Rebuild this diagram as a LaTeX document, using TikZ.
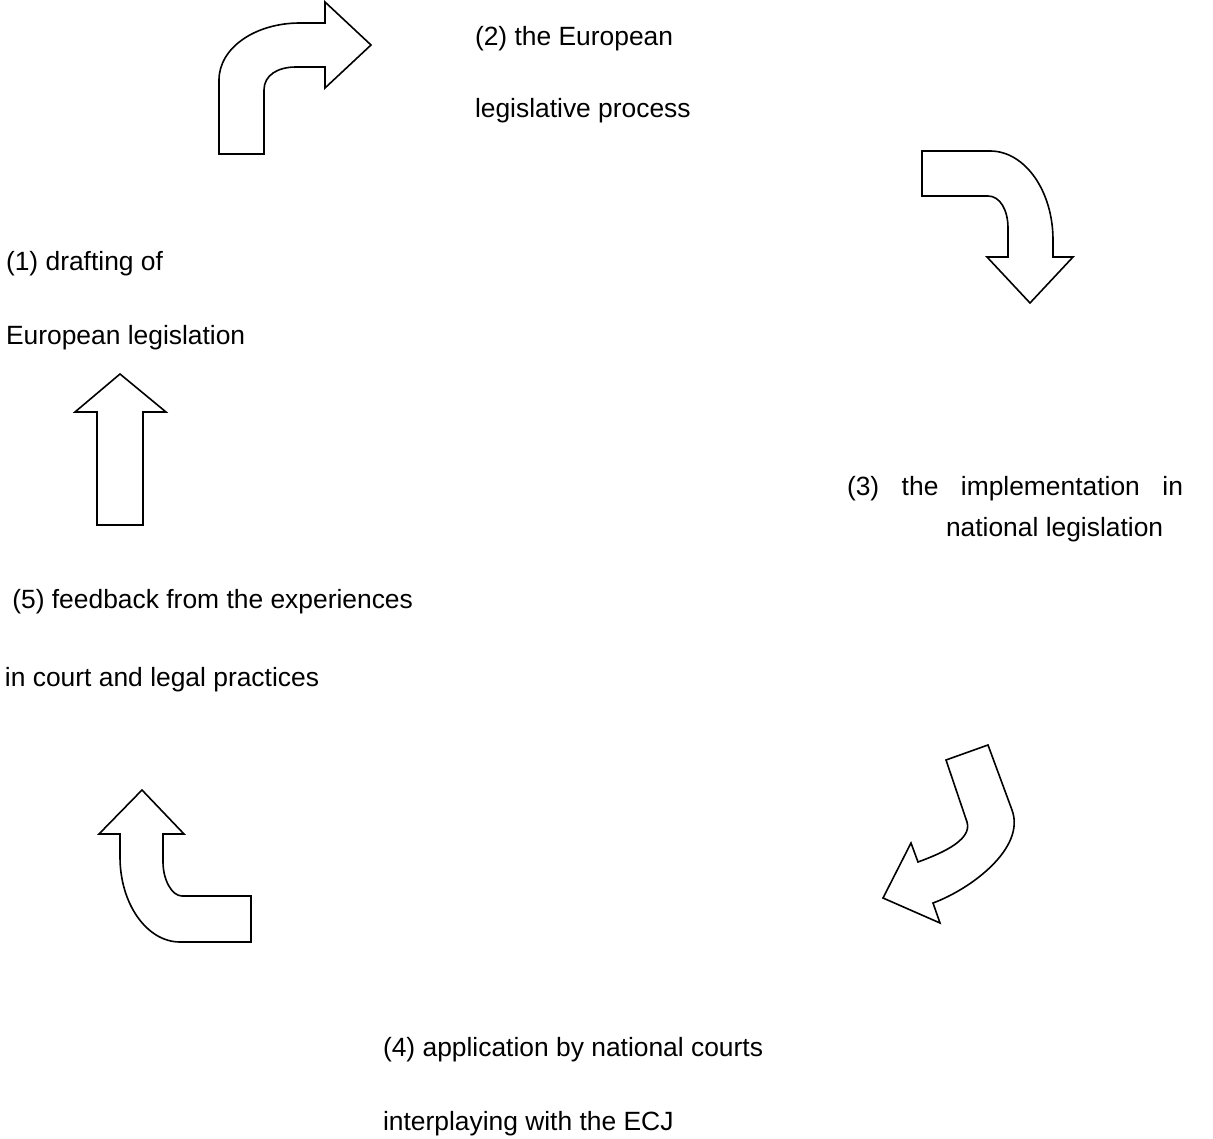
\documentclass[tikz,border=0pt]{standalone}
\usepackage{fontspec}
\setmainfont{Liberation Sans}
\begin{document}
\begin{tikzpicture}[x=1pt,y=-1pt,
  lbl/.style={anchor=base west,inner sep=0pt,outer sep=0pt,font=\fontsize{26.4}{30}\selectfont},
  blockarrow/.style={draw=black,line width=1.6pt,line join=miter,fill=white}]
\useasboundingbox (0,0) rectangle (1213,1139);
% arrow 1 (top left, bends right)
\draw[blockarrow] (219,154) -- (219,80) .. controls (219,48) and (255,23) .. (300,23)
  -- (325,23) -- (325,2) -- (371,45) -- (325,88) -- (325,67) -- (296,67)
  .. controls (278,67) and (264,75) .. (264,90) -- (264,154) -- cycle;
% arrow 2 (top right, bends down)
\draw[blockarrow] (922,151) -- (990,151) .. controls (1025,151) and (1053,191) .. (1053,240)
  -- (1053,257) -- (1073,257) -- (1030,303) -- (987,257) -- (1008,257) -- (1008,228)
  .. controls (1008,210) and (1000,196) .. (988,196) -- (922,196) -- cycle;
% arrow 3 (left, straight up)
\draw[blockarrow] (120,374) -- (166,412) -- (143,412) -- (143,525) -- (97,525) -- (97,412) -- (75,412) -- cycle;
% arrow 4 (bottom right, curved down-left)
\draw[blockarrow] (946,760) -- (988,745) -- (1012,810) .. controls (1026,848) and (971,889) .. (933,903)
  -- (940,923) -- (883,898) -- (911,843) -- (918,862)
  .. controls (937,855) and (973,841) .. (967,822) -- cycle;
% arrow 5 (bottom left, bends up)
\draw[blockarrow] (142,790) -- (184,834) -- (163,834) -- (163,862)
  .. controls (163,880) and (172,896) .. (182,896) -- (251,896) -- (251,942) -- (180,942)
  .. controls (147,942) and (120,904) .. (120,857) -- (120,834) -- (99,834) -- cycle;
% texts
\node[lbl] (t2a) at (475,46) {(2) the European};
\node[lbl] (t2b) at (475,118) {legislative process};
\node[lbl] (t1a) at (6,271) {(1) drafting of};
\node[lbl] (t1b) at (6,345) {European legislation};
\node[lbl] (t3a) at (847,495) {\makebox[336pt][s]{(3) the implementation in}};
\node[lbl] (t3b) at (946,536) {national legislation};
\node[lbl] (t5a) at (5,608) {\ (5) feedback from the experiences};
\node[lbl] (t5b) at (5,686) {in court and legal practices};
\node[lbl] (t4a) at (383,1056) {(4) application by national courts};
\node[lbl] (t4b) at (383,1130) {interplaying with the ECJ};
\end{tikzpicture}
\end{document}
